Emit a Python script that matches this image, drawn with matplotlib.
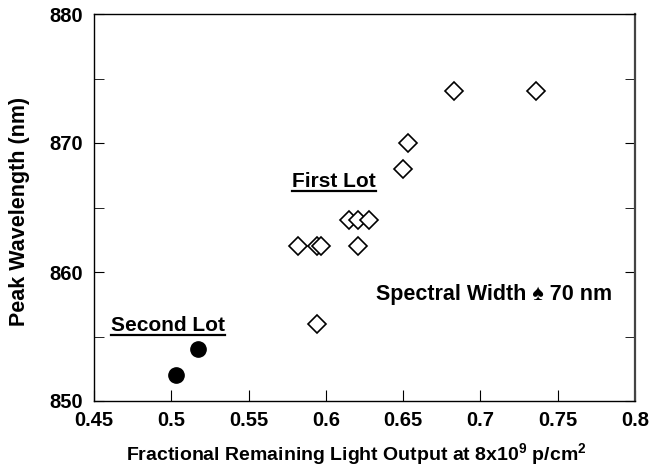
import numpy as np
import matplotlib
matplotlib.use("Agg")
import matplotlib.pyplot as plt
from matplotlib.lines import Line2D

plt.rcParams['font.family'] = ['Liberation Sans', 'DejaVu Sans']
plt.rcParams['font.weight'] = 'bold'
plt.rcParams['mathtext.fontset'] = 'custom'
plt.rcParams['mathtext.rm'] = 'Liberation Sans:bold'
plt.rcParams['mathtext.bf'] = 'Liberation Sans:bold'
plt.rcParams['mathtext.default'] = 'bf'

# first lot (open diamonds)
first_x = [0.683, 0.736, 0.653, 0.650, 0.615, 0.621, 0.628,
           0.582, 0.594, 0.597, 0.621, 0.594]
first_y = [874, 874, 870, 868, 864, 864, 864,
           862, 862, 862, 862, 856]

# second lot (filled circles)
second_x = [0.517, 0.503]
second_y = [854, 852]

x_ticks = [0.45, 0.5, 0.55, 0.6, 0.65, 0.7, 0.75, 0.8]
x_tick_labels = ['0.45', '0.5', '0.55', '0.6', '0.65', '0.7', '0.75', '0.8']
y_ticks = [850, 860, 870, 880]


def main():
    fig = plt.figure(figsize=(6.49, 4.66), dpi=100)
    ax = fig.add_axes([94/649, 1-401/466, (635-94)/649, (401-14)/466])

    ax.plot(first_x, first_y, linestyle='none', marker='D', ms=9.5,
            mfc='white', mec='black', mew=1.2)
    ax.plot(second_x, second_y, linestyle='none', marker='o', ms=11,
            mfc='black', mec='black')

    ax.set_xlim(0.45, 0.8)
    ax.set_ylim(850, 880)
    ax.set_xticks(x_ticks)
    ax.set_xticklabels(x_tick_labels)
    ax.set_yticks(y_ticks)
    ax.set_yticks(np.arange(855, 880, 10), minor=True)
    ax.tick_params(axis='both', which='both', direction='in', labelsize=14.5)
    ax.tick_params(axis='x', length=8, pad=7)
    ax.tick_params(axis='y', which='both', length=7, pad=8, right=True)
    for s in ax.spines.values():
        s.set_linewidth(1.0)
    ax.spines['right'].set_color('#444444')
    ax.spines['right'].set_linewidth(1.6)

    fig.text(20/649, 1-211/466, 'Peak Wavelength (nm)', rotation=90,
             ha='center', va='center', fontsize=15.5)
    fig.text(356/649, 1-460/466,
             'Fractional Remaining Light Output at 8x10$^{9}$ p/cm$^{2}$',
             ha='center', va='baseline', fontsize=14)

    t1 = ax.text(0.578, 866.6, 'First Lot', fontsize=15, va='baseline')
    t2 = ax.text(0.4608, 855.45, 'Second Lot', fontsize=15, va='baseline')
    ax.text(0.6324, 857.8, 'Spectral Width \u2660 70 nm', fontsize=15.5,
            va='baseline')

    # underline the lot labels
    fig.canvas.draw()
    inv = fig.transFigure.inverted()
    for t in [t1, t2]:
        bb = t.get_window_extent()
        base = ax.transData.transform(t.get_position())[1] - 4
        p0 = inv.transform((bb.x0, base))
        p1 = inv.transform((bb.x1, base))
        fig.add_artist(Line2D([p0[0], p1[0]], [p0[1], p1[1]],
                              color='black', lw=1.6,
                              transform=fig.transFigure))

    fig.savefig('out.png', dpi=100)


if __name__ == "__main__":
    main()
